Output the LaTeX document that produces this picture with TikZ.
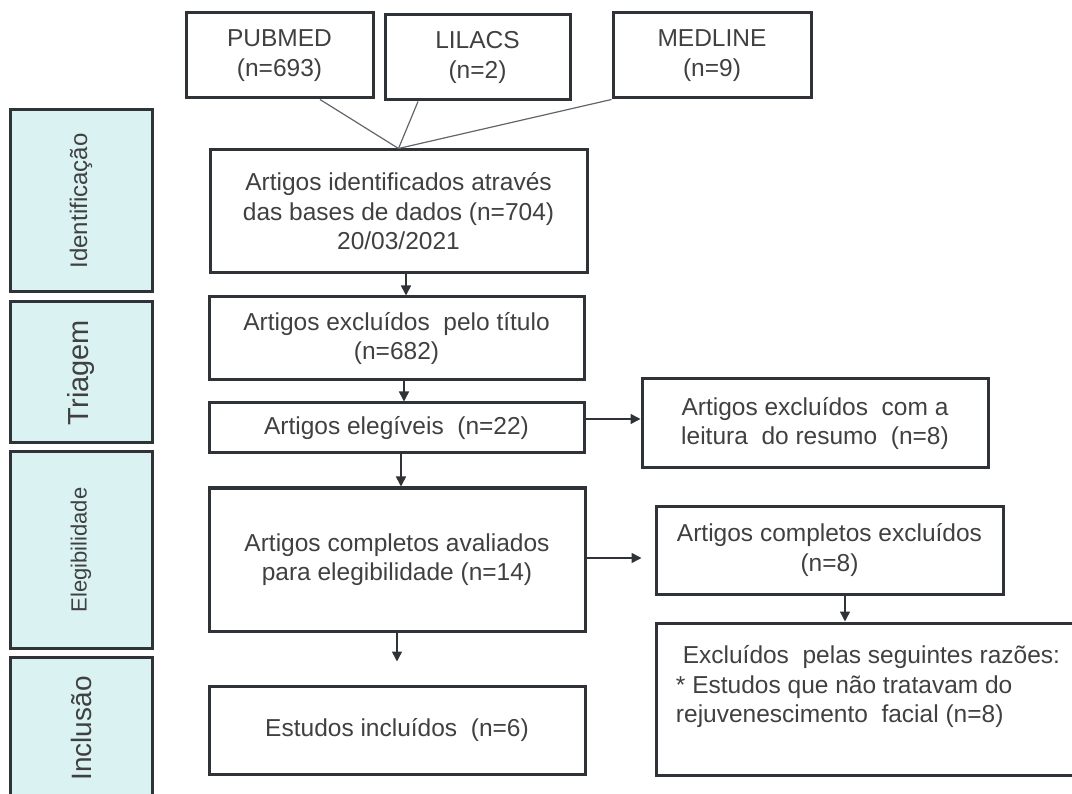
\documentclass[tikz,border=0pt]{standalone}
\usepackage{fontspec}
\setmainfont{Liberation Sans}
\usetikzlibrary{arrows.meta,positioning}
\definecolor{borda}{HTML}{2F3237}
\definecolor{texto}{HTML}{404040}
\definecolor{fasecor}{HTML}{DBF2F3}

\begin{document}
\begin{tikzpicture}[x=1pt,y=-1pt,>={Triangle[length=10pt,width=10pt]},
	caixa/.style={draw=borda, line width=3pt, text=texto, align=center, inner sep=0pt, font=\fontsize{24.5}{29.5}\selectfont},
	etapa/.style={draw=borda, line width=3pt, fill=fasecor, text=texto, rotate=90, inner sep=0pt, minimum height=142pt},
	seta/.style={->, draw=borda, line width=1.5pt},
	linha/.style={draw=borda!75, line width=1.2pt}]
\clip (0,0) rectangle (1072,794);

\node[etapa, minimum width=182pt, font=\fontsize{24}{28}\selectfont] (identificacao) at (81,201) {Identificação};
\node[etapa, minimum width=141pt, font=\fontsize{29}{33}\selectfont] (triagem) at (81,372.5) {Triagem};
\node[etapa, minimum width=196pt, font=\fontsize{22}{26}\selectfont] (elegibilidade) at (81,550) {Elegibilidade};
\node[etapa, minimum width=143pt, font=\fontsize{28}{32}\selectfont] (inclusao) at (81,728.5) {Inclusão};

\node[caixa, minimum width=187pt, minimum height=85pt] (pubmed) at (279.5,55.5) {PUBMED\\(n=693)};
\node[caixa, minimum width=185pt, minimum height=85pt] (lilacs) at (477.5,57.5) {LILACS\\(n=2)};
\node[caixa, minimum width=198pt, minimum height=85pt] (medline) at (712,55.5) {MEDLINE\\(n=9)};
\node[caixa, minimum width=377pt, minimum height=123pt] (ident) at (398.5,211.5) {Artigos identificados através\\das bases de dados (n=704)\\20/03/2021};
\node[caixa, minimum width=375pt, minimum height=83pt] (titulo) at (396.5,338.5) {Artigos excluídos~ pelo título\\(n=682)};
\node[caixa, minimum width=375pt, minimum height=50pt] (elegiveis) at (396.5,428) {Artigos elegíveis~ (n=22)};
\node[caixa, minimum width=346pt, minimum height=89pt] (resumo) at (815,423.5) {Artigos excluídos~ com a\\leitura~ do resumo~ (n=8)};
\node[caixa, minimum width=376pt, minimum height=143pt] (completos) at (397,559.5) {Artigos completos avaliados\\para elegibilidade (n=14)};
\node[caixa, minimum width=347pt, minimum height=88pt] (excluidos) at (829.5,550) {Artigos completos excluídos\\(n=8)};
\node[caixa, minimum width=424pt, minimum height=152pt, align=left] (razoes) at (868,699) {\ Excluídos~ pelas seguintes razões:\\{*} Estudos que não tratavam do\\rejuvenescimento~ facial (n=8)\\ \mbox{}};
\node[caixa, minimum width=376pt, minimum height=88pt] (incluidos) at (397,730) {Estudos incluídos~ (n=6)};

\coordinate (juncao) at (ident.north);
\draw[linha] ([xshift=40.5pt]pubmed.south) -- (juncao);
\draw[linha] ([xshift=-59.5pt]lilacs.south) -- (juncao);
\draw[linha] (medline.south west) -- (juncao);

\draw[seta] ([xshift=7.5pt]ident.south) -- ([xshift=7.5pt]ident.south |- titulo.north);
\draw[seta] ([xshift=7.5pt]titulo.south) -- ([xshift=7.5pt]titulo.south |- elegiveis.north);
\draw[seta] ([xshift=4.5pt]elegiveis.south) -- ([xshift=4.5pt]elegiveis.south |- completos.north);
\draw[seta] ([yshift=9pt]elegiveis.east) -- ([yshift=9pt]elegiveis.east -| resumo.west);
\draw[seta, shorten >=13pt] ([yshift=1.5pt]completos.east) -- ([yshift=1.5pt]completos.east -| excluidos.west);
\draw[seta] ([xshift=15.5pt]excluidos.south) -- ([xshift=15.5pt]excluidos.south |- razoes.north);
\draw[seta, shorten >=23pt] (completos.south) -- (completos.south |- incluidos.north);
\end{tikzpicture}
\end{document}
